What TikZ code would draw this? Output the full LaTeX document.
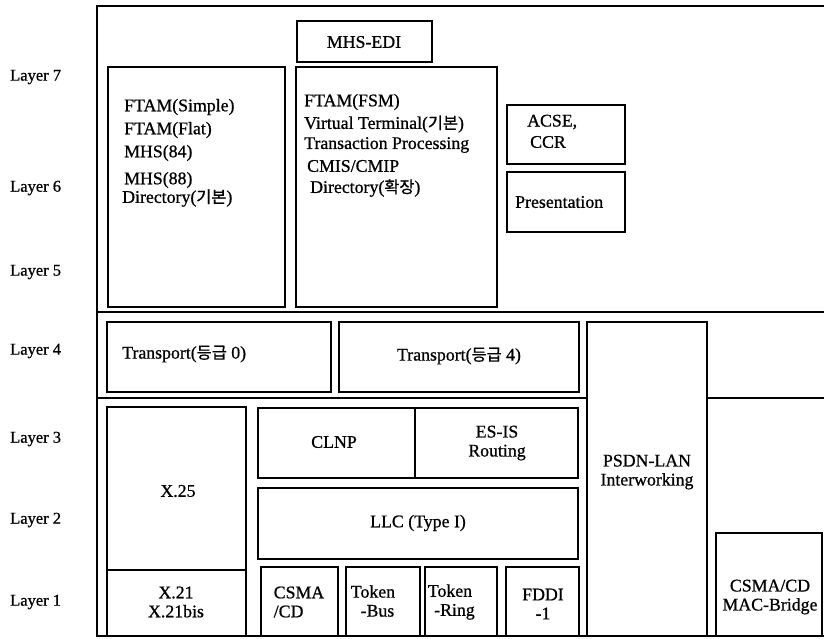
\documentclass[tikz,border=0pt]{standalone}
\usepackage{fontspec}
\setmainfont{Liberation Serif}[FakeBold=0.8]
\newfontfamily\kr[Scale=0.92,FakeBold=0.8]{Noto Sans CJK KR}
\begin{document}
\begin{tikzpicture}[x=1pt,y=-1pt,
  box/.style={draw, line width=1.5pt},
  frame/.style={line width=1.3pt},
  txt/.style={font=\fontsize{17.8}{19}\selectfont, inner sep=0pt},
  ltxt/.style={font=\fontsize{16.5}{19}\selectfont, inner sep=0pt, anchor=west},
  wtxt/.style={txt, anchor=west},
  ctxt/.style={txt, align=center}]
\useasboundingbox (0,0) rectangle (824,638);
% outer frame
\draw[frame] (824,6) -- (97,6) -- (97,636) -- (824,636);
\draw[frame] (97,312) -- (824,312);
\draw[frame] (97,398) -- (587,398);
\draw[frame] (707,398) -- (824,398);
% boxes
\draw[box] (297,21) rectangle (432,62);
\draw[box] (108,67) rectangle (285,307);
\draw[box] (296,67) rectangle (497,307);
\draw[box] (507,105) rectangle (625,164);
\draw[box] (507,172) rectangle (625,232);
\draw[box] (107,322) rectangle (331,392);
\draw[box] (339,322) rectangle (579,392);
\draw[box] (587,322) rectangle (707,636);
\draw[box] (107,407) rectangle (246,570);
\draw[box] (107,570) rectangle (246,636);
\draw[box] (258,408) rectangle (578,478);
\draw[box] (415,408) -- (415,478);
\draw[box] (258,488) rectangle (578,559);
\draw[box] (261,567) rectangle (338,636);
\draw[box] (346,567) rectangle (420,636);
\draw[box] (425,567) rectangle (497,636);
\draw[box] (506,567) rectangle (579,636);
\draw[box] (716,533) rectangle (822,636);
% layer labels
\node[ltxt] (l7) at (10,77) {Layer 7};
\node[ltxt] (l6) at (10,188) {Layer 6};
\node[ltxt] (l5) at (10,272) {Layer 5};
\node[ltxt] (l4) at (10,351) {Layer 4};
\node[ltxt] (l3) at (10,439) {Layer 3};
\node[ltxt] (l2) at (10,520) {Layer 2};
\node[ltxt] (l1) at (10,602) {Layer 1};
% layer 7-5
\node[ctxt] (mhsedi) at (364,42) {MHS-EDI};
\node[wtxt] (a1) at (124,107) {FTAM(Simple)};
\node[wtxt] (a2) at (124,130) {FTAM(Flat)};
\node[wtxt] (a3) at (124,153) {MHS(84)};
\node[wtxt] (a4) at (124,180) {MHS(88)};
\node[wtxt] (a5) at (122,198) {Directory({\kr 기본})};
\node[wtxt] (b1) at (304,102) {FTAM(FSM)};
\node[wtxt] (b2) at (304,124) {Virtual Terminal({\kr 기본})};
\node[wtxt] (b3) at (304,145) {Transaction Processing};
\node[wtxt] (b4) at (307,166) {CMIS/CMIP};
\node[wtxt] (b5) at (310,188) {Directory({\kr 확장})};
\node[wtxt] (acse) at (527,122) {ACSE,};
\node[wtxt] (ccr) at (530,142) {CCR};
\node[wtxt] (pres) at (515,202) {Presentation};
% layer 4
\node[wtxt] (tp0) at (122,354) {Transport({\kr 등급} 0)};
\node[ctxt] (tp4) at (459,356) {Transport({\kr 등급} 4)};
% layers 3-1
\node[ctxt] (psdn) at (647,472) {PSDN-LAN\\Interworking};
\node[ctxt] (x25) at (178,491) {X.25};
\node[ctxt] (x21) at (176,602) {X.21\\X.21bis};
\node[ctxt] (clnp) at (334,442) {CLNP};
\node[ctxt] (esis) at (497,443) {ES-IS\\Routing};
\node[ctxt] (llc) at (418,523) {LLC (Type I)};
\node[txt, align=left] (csma) at (299,602) {CSMA\\/CD};
\node[ctxt] (tbus) at (373,601) {Token\\\ \ -Bus};
\node[ctxt] (tring) at (450,602) {Token\\\ \ -Ring};
\node[ctxt] (fddi) at (543,604) {FDDI\\-1};
\node[ctxt] (bridge) at (770,597) {CSMA/CD\\MAC-Bridge};
\end{tikzpicture}
\end{document}
